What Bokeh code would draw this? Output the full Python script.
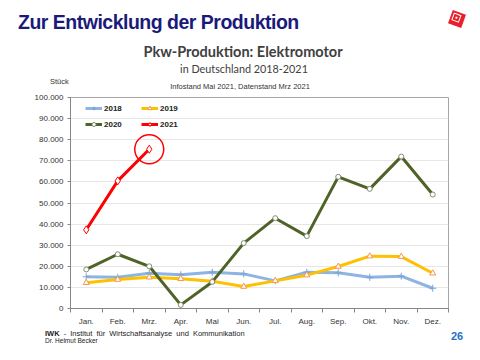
from bokeh.plotting import figure
from bokeh.layouts import column
from bokeh.models import (FixedTicker, Legend, LegendItem, Range1d, Div)
from bokeh.embed import file_html
from bokeh.resources import INLINE

months = ["Jan.", "Feb.", "Mrz.", "Apr.", "Mai", "Jun.", "Jul.", "Aug.", "Sep.", "Okt.", "Nov.", "Dez."]
v2018 = [15000, 14800, 16700, 16000, 17200, 16400, 13100, 17200, 16900, 14800, 15300, 9600]
v2019 = [12200, 13700, 14800, 14100, 12900, 10400, 13100, 15800, 19900, 24800, 24600, 16700]
v2020 = [18500, 25700, 20000, 1700, 12600, 31000, 42800, 34300, 62400, 56700, 72000, 54000]
v2021 = [37300, 60500, 75500]
y_ticks = list(range(0, 100001, 10000))
y_labels = [f"{t:,}".replace(",", ".") for t in y_ticks]
highlight_index = 2  # Mrz. 2021

title_main = "Zur Entwicklung der Produktion"
title_chart = "Pkw-Produktion: Elektromotor"
subtitle = "in Deutschland 2018-2021"
unit_label = "Stück"
note = "Infostand Mai 2021, Datenstand Mrz 2021"
footer_org = "IWK"
footer_text = "- Institut für Wirtschaftsanalyse und Kommunikation"
footer_author = "Dr. Helmut Becker"
page_no = "26"

xs = [i + 0.5 for i in range(len(months))]

W = 464
HEAD_H, FOOT_H = 92, 16
p = figure(width=W, height=236, output_backend="svg", toolbar_location=None,
           x_range=Range1d(0, len(months)), y_range=Range1d(0, 100000),
           min_border_left=70, min_border_right=16, min_border_top=5, min_border_bottom=20)
p.background_fill_color = "white"
p.border_fill_color = "white"
p.outline_line_color = "#a6a6a6"

# axes
xa = p.xaxis[0]
xa.ticker = FixedTicker(ticks=xs, minor_ticks=list(range(len(months) + 1)))
xa.major_label_overrides = {x: m for x, m in zip(xs, months)}
xa.major_tick_out = 0
xa.major_tick_in = 0
xa.minor_tick_out = 4
xa.minor_tick_in = 0
xa.minor_tick_line_color = "#868686"
xa.axis_line_color = "#868686"
xa.major_label_text_font = "Liberation Sans"
xa.major_label_text_font_size = "8px"
xa.major_label_text_color = "#333333"
xa.major_label_standoff = 4

ya = p.yaxis[0]
ya.ticker = FixedTicker(ticks=y_ticks, minor_ticks=[])
ya.major_label_overrides = {t: l for t, l in zip(y_ticks, y_labels)}
ya.major_tick_out = 3
ya.major_tick_in = 0
ya.major_tick_line_color = "#868686"
ya.axis_line_color = "#868686"
ya.major_label_text_font = "Liberation Sans"
ya.major_label_text_font_size = "8px"
ya.major_label_text_color = "#333333"
ya.major_label_standoff = 4

p.xgrid.grid_line_color = None
p.ygrid.grid_line_color = "#e6e6e6"
p.ygrid.grid_line_width = 1

# series
l18 = p.line(xs, v2018, line_color="#8db4e2", line_width=3)
s18 = p.scatter(xs, v2018, marker="cross", size=7, line_color="#7ba3d6", line_width=1)
l19 = p.line(xs, v2019, line_color="#ffc000", line_width=3)
s19 = p.scatter(xs, v2019, marker="triangle", size=6, fill_color="white", line_color="#f79646", line_width=1)
l20 = p.line(xs, v2020, line_color="#4f6228", line_width=3)
s20 = p.scatter(xs, v2020, marker="circle", size=5, fill_color="white", line_color="#7f8f6f", line_width=1)
x21 = xs[:len(v2021)]
l21 = p.line(x21, v2021, line_color="#ff0000", line_width=3)
s21 = p.scatter(x21, v2021, marker="diamond", size=8, fill_color="white", line_color="#ff0000", line_width=1)
p.scatter([xs[highlight_index]], [v2021[highlight_index]], marker="circle", size=29,
          fill_color=None, line_color="#ff0000", line_width=1.5)

legend = Legend(items=[LegendItem(label="2018", renderers=[l18, s18]),
                       LegendItem(label="2019", renderers=[l19, s19]),
                       LegendItem(label="2020", renderers=[l20, s20]),
                       LegendItem(label="2021", renderers=[l21, s21])],
                orientation="horizontal", ncols=2, location=(15, 179),
                padding=0, margin=0, spacing=6, glyph_width=17, glyph_height=10,
                label_height=10, label_width=31, label_standoff=2,
                label_text_font="Liberation Sans", label_text_font_style="bold",
                label_text_font_size="8px", label_text_color="#222222",
                background_fill_alpha=0, border_line_color=None)
p.add_layout(legend, "center")

ARIAL = "'Liberation Sans', Arial, sans-serif"
LATO = "Lato, 'Open Sans', sans-serif"


def span(text, left, top, size, color="#333333", weight="normal", font=ARIAL, center=False, extra=""):
    if center:
        pos = f"left:{left - 200}px;width:400px;text-align:center;"
    else:
        pos = f"left:{left}px;"
    return (f'<div style="position:absolute;{pos}top:{top}px;font-family:{font};'
            f'font-size:{size}px;line-height:1;color:{color};font-weight:{weight};'
            f'white-space:nowrap;{extra}">{text}</div>')


logo = ('<div style="position:absolute;left:450px;top:12px;width:14px;height:14px;'
        'background:#e8202a;transform:rotate(20deg);">'
        '<div style="position:absolute;left:2px;top:2px;width:8px;height:8px;border:1px solid white;">'
        '<div style="position:absolute;left:2px;top:2px;width:2px;height:2px;border:1px solid white;"></div>'
        '</div></div>')

head_html = (f'<div style="position:relative;width:{W}px;height:{HEAD_H}px;background:white;">'
             + span(title_main, 18, 13, 19.5, color="#1a1a7a", weight="bold", extra="letter-spacing:-0.5px;")
             + span(title_chart, 243, 45, 14.5, color="#404040", weight="bold", font=LATO, center=True)
             + span(subtitle, 244, 64, 10.8, color="#404040", font=LATO, center=True)
             + span(unit_label, 50, 78, 7.5)
             + span(note, 240, 83, 7.5, center=True)
             + logo + '</div>')

foot_html = (f'<div style="position:relative;width:{W}px;height:{FOOT_H}px;background:white;">'
             + span(f'<b>{footer_org}</b> {footer_text}', 45, 2, 7.5, color="#222222", extra="word-spacing:2px;")
             + span(footer_author, 45, 10, 6.5, color="#222222")
             + span(page_no, 451, 3, 11, color="#1f72c4", weight="bold")
             + '</div>')

header = Div(text=head_html, width=W, height=HEAD_H, margin=0)
footer = Div(text=foot_html, width=W, height=FOOT_H, margin=0)

layout = column(header, p, footer, spacing=0)
open("out.html", "w").write(file_html(layout, INLINE))
